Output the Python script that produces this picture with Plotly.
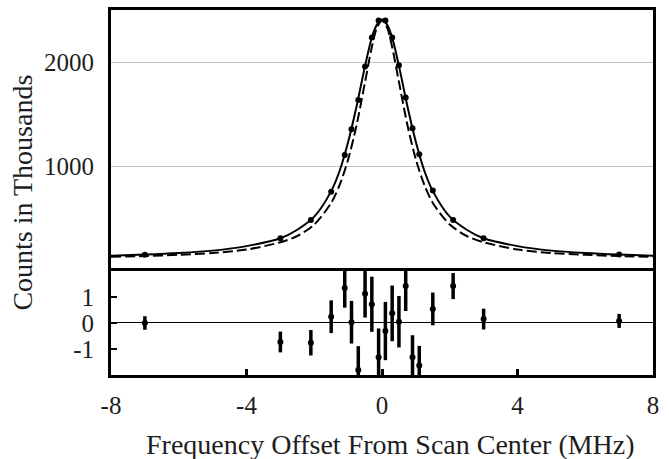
import plotly.graph_objects as go

# Measured data (frequency offset in MHz)
freq = [-7, -3, -2.1, -1.5, -1.1, -0.9, -0.7, -0.5, -0.3, -0.1,
        0.1, 0.3, 0.5, 0.7, 0.9, 1.1, 1.5, 2.1, 3, 7]
counts = [155, 313, 489, 760, 1112, 1358, 1639, 1958, 2236, 2399,
          2399, 2236, 1971, 1661, 1367, 1118, 770, 489, 313, 158]
residual = [0.0, -0.73, -0.76, 0.24, 1.35, 0.03, -1.81, 1.12, 0.72, -1.32,
            -0.31, 0.37, 0.05, 1.42, -1.32, -1.63, 0.54, 1.42, 0.15, 0.08]
resid_err = [0.26, 0.40, 0.49, 0.63, 0.76, 0.82, 0.92, 0.91, 1.06, 1.11,
             1.12, 1.07, 0.99, 0.96, 0.85, 0.75, 0.63, 0.50, 0.40, 0.27]

# Fit curve (solid)
fit_x = [-8, -7, -6, -5, -4, -3, -2.5, -2, -1.5, -1.25, -1, -0.75, -0.5, -0.3, -0.15, 0,
         0.15, 0.3, 0.5, 0.75, 1, 1.25, 1.5, 2, 2.5, 3, 4, 5, 6, 7, 8]
fit_y = [146, 157, 172, 195, 238, 313, 395, 520, 765, 960, 1235, 1578, 1965, 2236, 2360, 2410,
         2360, 2236, 1965, 1578, 1235, 960, 765, 520, 395, 313, 238, 195, 172, 157, 146]

# Comparison curve (dashed)
dash_x = fit_x
dash_y = [136, 143, 155, 172, 205, 275, 335, 445, 652, 825, 1068, 1398, 1811, 2146, 2331, 2400,
          2331, 2146, 1811, 1398, 1068, 825, 652, 445, 335, 275, 205, 172, 155, 143, 136]

x_ticks = [-8, -4, 0, 4, 8]
x_ticktext = ["-8", "-4", "0", "4", "8"]
top_ticks = [1000, 2000]
res_ticks = [-1, 0, 1]
res_ticktext = ["-1", "0", "1"]

FONT = "Liberation Serif, Times New Roman, serif"
TXT = "#1e1e1e"

fig = go.Figure()

fig.add_trace(go.Scatter(x=dash_x, y=dash_y, mode="lines",
                         line=dict(color="black", width=2, dash="10px,4px", shape="spline", smoothing=0.8),
                         xaxis="x", yaxis="y", showlegend=False))
fig.add_trace(go.Scatter(x=fit_x, y=fit_y, mode="lines",
                         line=dict(color="black", width=2, shape="spline", smoothing=0.8),
                         xaxis="x", yaxis="y", showlegend=False))
fig.add_trace(go.Scatter(x=freq, y=counts, mode="markers",
                         marker=dict(color="black", size=6),
                         xaxis="x", yaxis="y", showlegend=False))

fig.add_trace(go.Scatter(x=freq, y=residual, mode="markers",
                         marker=dict(color="black", size=6),
                         error_y=dict(type="data", array=resid_err, visible=True,
                                      thickness=3.5, width=0, color="black"),
                         xaxis="x2", yaxis="y2", showlegend=False))

line_style = dict(showline=True, linecolor="black", linewidth=3)

fig.update_layout(
    width=669, height=459,
    margin=dict(l=111, r=16, t=10, b=84),
    paper_bgcolor="white", plot_bgcolor="white",
    font=dict(family=FONT, size=25, color=TXT),
    xaxis=dict(domain=[0, 1], range=[-8, 8], anchor="y", side="top", mirror=False,
               showticklabels=False, ticks="", showgrid=False, zeroline=False, **line_style),
    yaxis=dict(domain=[0.285, 1], range=[0, 2500], tickvals=top_ticks,
               ticktext=[str(v) for v in top_ticks], ticks="", mirror=True,
               showgrid=True, gridcolor="#c4c4c4", gridwidth=1, zeroline=False,
               ticklabelstandoff=9, **line_style),
    xaxis2=dict(domain=[0, 1], range=[-8, 8], anchor="y2", tickvals=x_ticks,
                ticktext=x_ticktext, ticks="inside", ticklen=6, tickwidth=2.5,
                tickcolor="black", showgrid=False, zeroline=False, mirror=True,
                ticklabelstandoff=6, **line_style),
    yaxis2=dict(domain=[0, 0.285], range=[-2, 2], tickvals=res_ticks,
                ticktext=res_ticktext, ticks="inside", ticklen=6, tickwidth=1.5,
                tickcolor="black", showgrid=False, zeroline=True, mirror=True,
                zerolinecolor="black", zerolinewidth=1.2,
                ticklabelstandoff=9, **line_style),
    annotations=[
        dict(text="Counts in Thousands", xref="paper", yref="paper",
             x=-0.164, y=0.5, textangle=-90, showarrow=False,
             font=dict(family=FONT, size=28, color=TXT),
             xanchor="center", yanchor="middle"),
        dict(text="Frequency Offset From Scan Center (MHz)", xref="paper", yref="paper",
             x=0.515, y=-0.19, showarrow=False,
             font=dict(family=FONT, size=28, color=TXT),
             xanchor="center", yanchor="middle"),
    ],
)

fig.write_html("out.html", config={"displayModeBar": False},
               post_script="document.body.style.margin='0px';")
